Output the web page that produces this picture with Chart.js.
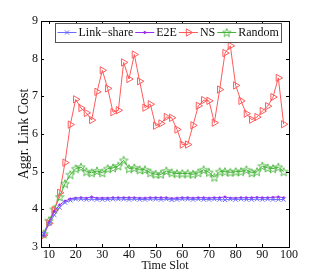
<!DOCTYPE html>
<html>
<head>
<meta charset="utf-8">
<script src="https://cdn.jsdelivr.net/npm/chart.js@4/dist/chart.umd.min.js"></script>
<style>
html, body { margin: 0; padding: 0; background: #fff; }
#wrap { width: 319px; height: 277px; }
</style>
</head>
<body>
<div id="wrap"><canvas id="chart" width="319" height="277"></canvas></div>
<script>
// Data
const timeSlots = [8, 10, 12, 14, 16, 18,
    20, 22, 24, 26, 28, 30, 32, 34, 36, 38,
    40, 42, 44, 46, 48, 50, 52, 54, 56, 58,
    60, 62, 64, 66, 68, 70, 72, 74, 76, 78,
    80, 82, 84, 86, 88, 90, 92, 94, 96, 98];
const linkShare = [3.35, 3.62, 3.85, 4.05, 4.18, 4.24,
    4.27, 4.27, 4.26, 4.27, 4.26, 4.26, 4.26, 4.27, 4.27, 4.27,
    4.26, 4.27, 4.26, 4.26, 4.27, 4.27, 4.26, 4.27, 4.25, 4.26,
    4.27, 4.27, 4.26, 4.27, 4.26, 4.26, 4.27, 4.26, 4.25, 4.27,
    4.26, 4.27, 4.26, 4.26, 4.27, 4.26, 4.27, 4.26, 4.26, 4.26];
const e2e = [3.3, 3.65, 3.95, 4.12, 4.22, 4.28,
    4.3, 4.31, 4.3, 4.33, 4.3, 4.3, 4.3, 4.31, 4.31, 4.31,
    4.31, 4.31, 4.3, 4.3, 4.31, 4.31, 4.31, 4.31, 4.29, 4.3,
    4.31, 4.31, 4.3, 4.31, 4.31, 4.3, 4.31, 4.31, 4.33, 4.3,
    4.3, 4.31, 4.31, 4.31, 4.32, 4.31, 4.31, 4.32, 4.33, 4.31];
const ns = [3.31, 3.63, 3.98, 4.44, 5.24, 6.25,
    6.92, 6.69, 6.56, 6.37, 7.12, 7.69, 7.21, 6.58, 6.63, 7.9,
    7.46, 8.11, 7.4, 6.7, 6.79, 6.22, 6.28, 6.45, 6.43, 6.12,
    5.72, 5.72, 6.23, 6.75, 6.9, 6.88, 6.3, 7.18, 8.15, 8.34,
    7.29, 6.88, 6.54, 6.38, 6.45, 6.61, 6.74, 6.98, 7.49, 6.26];
const random = [3.35, 3.7, 4.0, 4.33, 4.68, 4.92,
    5.08, 5.12, 5.0, 4.97, 5.02, 4.97, 5.08, 5.1, 5.15, 5.3,
    5.08, 5.1, 5.05, 5.05, 4.97, 4.93, 4.93, 5.02, 4.97, 4.95,
    4.95, 4.95, 4.93, 4.97, 5.05, 4.98, 4.85, 5.0, 5.0, 4.98,
    5.0, 5.0, 5.05, 4.97, 5.0, 5.15, 5.1, 5.08, 5.12, 5.0];
const xTicks = [10, 20, 30, 40, 50, 60, 70, 80, 90, 100];
const yTicks = [3, 4, 5, 6, 7, 8, 9];
const seriesNames = ['Link\u2212share', 'E2E', 'NS', 'Random'];

const SERIF = "'Liberation Serif', 'DejaVu Serif', serif";
const colors = ['#6a6aff', '#9a2cf0', '#ff5a5a', '#46b43a'];

// pentagram marker (matlab 'p')
function makeStar(color) {
    const c = document.createElement('canvas');
    c.width = 10; c.height = 10;
    const g = c.getContext('2d');
    g.strokeStyle = color;
    g.lineWidth = 0.9;
    g.beginPath();
    for (let i = 0; i < 10; i++) {
        const r = i % 2 === 0 ? 4.5 : 1.9;
        const a = -Math.PI / 2 + i * Math.PI / 5;
        const px = 5 + r * Math.cos(a), py = 5.4 + r * Math.sin(a);
        if (i === 0) g.moveTo(px, py); else g.lineTo(px, py);
    }
    g.closePath();
    g.stroke();
    return c;
}
const starImg = makeStar(colors[3]);

function toPoints(ys) {
    return timeSlots.map((x, i) => ({ x: x, y: ys[i] }));
}

const datasets = [
    { label: seriesNames[0], data: toPoints(linkShare), borderColor: colors[0],
      pointStyle: 'crossRot', pointRadius: 3, pointBorderWidth: 1, pointBorderColor: colors[0],
      pointBackgroundColor: 'transparent' },
    { label: seriesNames[1], data: toPoints(e2e), borderColor: colors[1],
      pointStyle: 'circle', pointRadius: 1.1, pointBorderWidth: 0.5, pointBorderColor: colors[1],
      pointBackgroundColor: colors[1] },
    { label: seriesNames[2], data: toPoints(ns), borderColor: colors[2],
      pointStyle: 'triangle', pointRotation: 90, pointRadius: 4.2, pointBorderWidth: 1,
      pointBorderColor: colors[2], pointBackgroundColor: 'transparent' },
    { label: seriesNames[3], data: toPoints(random), borderColor: colors[3],
      pointStyle: starImg, pointRadius: 4, pointBorderColor: colors[3],
      pointBackgroundColor: 'transparent' }
];
datasets.forEach(d => { d.borderWidth = 1; d.tension = 0; d.fill = false; d.pointHoverRadius = d.pointRadius; });

// axes box, inward ticks and legend
const framePlugin = {
    id: 'frame',
    afterDatasetsDraw(chart) {
        const { ctx, chartArea: a, scales } = chart;
        ctx.save();
        ctx.strokeStyle = '#000';
        ctx.lineWidth = 1;
        ctx.strokeRect(Math.round(a.left) + 0.5, Math.round(a.top) + 0.5,
            Math.round(a.right - a.left), Math.round(a.bottom - a.top));
        ctx.beginPath();
        xTicks.forEach(v => {
            const px = Math.round(scales.x.getPixelForValue(v)) + 0.5;
            ctx.moveTo(px, a.bottom); ctx.lineTo(px, a.bottom - 3);
            ctx.moveTo(px, a.top); ctx.lineTo(px, a.top + 3);
        });
        yTicks.forEach(v => {
            const py = Math.round(scales.y.getPixelForValue(v)) + 0.5;
            ctx.moveTo(a.left, py); ctx.lineTo(a.left + 3, py);
            ctx.moveTo(a.right, py); ctx.lineTo(a.right - 3, py);
        });
        ctx.stroke();

        // legend box
        const top = 23, bottom = 42, cy = 32.5;
        ctx.font = '12px ' + SERIF;
        let x = 57.5;
        const items = chart.data.datasets.map(ds => {
            const w = ctx.measureText(ds.label).width;
            const it = { ds, x, w };
            x += 21 + w + 2;
            return it;
        });
        const boxL = 55.5, boxR = Math.round(x) + 0.5;
        ctx.fillStyle = '#fff';
        ctx.fillRect(boxL, top + 0.5, boxR - boxL, bottom - top);
        ctx.strokeStyle = '#555';
        ctx.strokeRect(boxL, top + 0.5, boxR - boxL, bottom - top);
        items.forEach(it => {
            const ds = it.ds;
            ctx.strokeStyle = ds.borderColor;
            ctx.lineWidth = 1;
            ctx.beginPath();
            ctx.moveTo(it.x, cy); ctx.lineTo(it.x + 19, cy);
            ctx.stroke();
            ctx.fillStyle = ds.pointBackgroundColor;
            ctx.strokeStyle = ds.pointBorderColor;
            Chart.helpers.drawPoint(ctx, {
                pointStyle: ds.pointStyle, rotation: ds.pointRotation || 0,
                radius: ds.pointRadius, borderWidth: ds.pointBorderWidth || 1
            }, it.x + 9.5, cy);
            ctx.fillStyle = '#111';
            ctx.textAlign = 'left';
            ctx.textBaseline = 'middle';
            ctx.fillText(ds.label, it.x + 21, cy + 0.5);
        });
        ctx.restore();
    }
};

const chart = new Chart(document.getElementById('chart'), {
    type: 'line',
    data: { datasets: datasets },
    options: {
        responsive: false,
        animation: false,
        devicePixelRatio: 1,
        layout: { padding: { top: 21, right: 30, left: 0, bottom: 0 } },
        plugins: { legend: { display: false }, tooltip: { enabled: false } },
        scales: {
            x: {
                type: 'linear', min: 7, max: 100,
                grid: { display: false, drawTicks: false },
                border: { display: false },
                afterBuildTicks: s => { s.ticks = xTicks.map(v => ({ value: v })); },
                afterFit: s => { s.height = 30; },
                ticks: { color: '#111', padding: 1, maxRotation: 0, autoSkip: false,
                         font: { family: SERIF, size: 12 } },
                title: { display: true, text: 'Time Slot', color: '#111',
                         font: { family: SERIF, size: 12 }, padding: { top: 0, bottom: 4 } }
            },
            y: {
                min: 3, max: 9,
                grid: { display: false, drawTicks: false },
                border: { display: false },
                afterBuildTicks: s => { s.ticks = yTicks.map(v => ({ value: v })); },
                afterFit: s => { s.width = 41; },
                ticks: { color: '#111', padding: 3, font: { family: SERIF, size: 12 } },
                title: { display: true, text: 'Aggr. Link Cost', color: '#111',
                         font: { family: SERIF, size: 14 }, padding: { top: 16, bottom: 0 } }
            }
        }
    },
    plugins: [framePlugin]
});
</script>
</body>
</html>
